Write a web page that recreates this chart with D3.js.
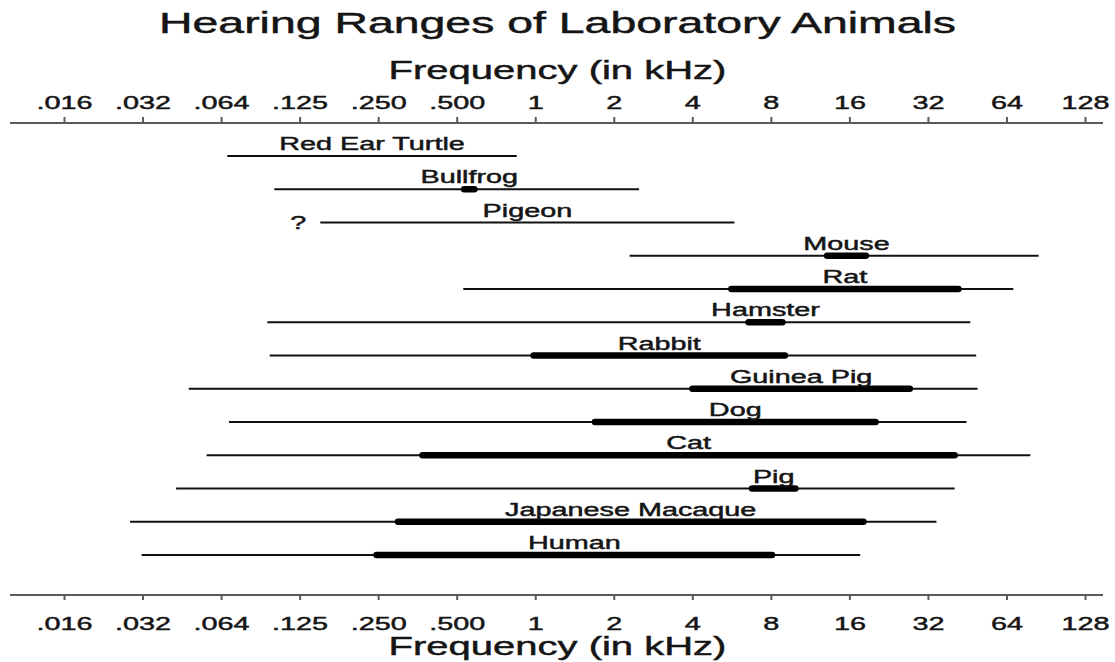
<!DOCTYPE html>
<html>
<head>
<meta charset="utf-8">
<script src="https://cdn.jsdelivr.net/npm/d3@7"></script>
<style>
  body { margin: 0; background: #fff; }
  text { font-family: "Liberation Sans", Arial, sans-serif; fill: #151515; stroke: #151515; stroke-width: 0.45px; }
</style>
</head>
<body>
<svg width="1115" height="662"></svg>
<script>
// tick values are powers of two (kHz), labelled the way the figure does
var tickValues = d3.range(-6, 8).map(function (p) { return Math.pow(2, p) })
var tickLabels = ['.016', '.032', '.064', '.125', '.250', '.500', '1', '2', '4', '8', '16', '32', '64', '128']

var animals = ['Red Ear Turtle', 'Bullfrog', 'Pigeon', 'Mouse', 'Rat', 'Hamster', 'Rabbit',
  'Guinea Pig', 'Dog', 'Cat', 'Pig', 'Japanese Macaque', 'Human']
// full hearing range, kHz
var lowFreq  = [0.066, 0.1, 0.15, 2.3, 0.53, 0.094, 0.096, 0.047, 0.067, 0.055, 0.042, 0.028, 0.031]
var highFreq = [0.85, 2.5, 5.8, 85, 68, 46.5, 49, 49.6, 45, 79, 40.5, 34.5, 17.6]
// most sensitive region (thick bar), kHz; null where none is drawn
var bestLow  = [null, 0.52, null, 12.8, 5.5, 6.4, 0.96, 3.9, 1.65, 0.36, 6.6, 0.29, 0.24]
var bestHigh = [null, 0.6, null, 19, 43, 9.1, 9.3, 28, 20.7, 41.6, 10.2, 18.6, 8.3]
var uncertainLow = ['Pigeon']

var config = {
  width: 1115,
  height: 662,
  stretch: 1.6,        // the figure's lettering is drawn wide
  topAxis: 123,
  bottomAxis: 595,
  rows: [156, 555]
}

var svg = d3.select('svg')

var x = d3.scaleLog().base(2)
    .domain([tickValues[0], tickValues[tickValues.length - 1]])
    .range([64, 1085])

var y = d3.scalePoint()
    .domain(animals)
    .range(config.rows)

function wideText (parent, px, py, str, size, anchor) {
  return parent.append('text')
      .attr('transform', `translate(${px}, ${py}) scale(${config.stretch}, 1)`)
      .attr('text-anchor', anchor || 'middle')
      .attr('font-size', size)
      .text(str)
}

// titles
wideText(svg, config.width / 2, 33, 'Hearing Ranges of Laboratory Animals', 29)
wideText(svg, config.width / 2, 79, 'Frequency (in kHz)', 25)
wideText(svg, config.width / 2, 655, 'Frequency (in kHz)', 25)

function drawAxis (axis, ypos) {
  svg.append('line')
      .attr('x1', 10)
      .attr('x2', 1103)
      .attr('y1', ypos)
      .attr('y2', ypos)
      .attr('stroke', '#5a5a5a')
      .attr('stroke-width', 2)

  var g = svg.append('g')
      .attr('transform', `translate(0, ${ypos})`)
      .call(axis.tickValues(tickValues)
        .tickFormat(function (d, i) { return tickLabels[i] })
        .tickSizeOuter(0))
      .attr('font-size', null)
      .attr('font-family', null)

  g.select('.domain').remove()
  g.selectAll('.tick line')
      .attr('stroke', '#5a5a5a')
      .attr('stroke-width', 2)
  g.selectAll('.tick text')
      .attr('font-size', 18)
      .attr('transform', `scale(${config.stretch}, 1)`)
}

drawAxis(d3.axisTop(x).tickSize(6).tickPadding(8), config.topAxis)
drawAxis(d3.axisBottom(x).tickSize(5).tickPadding(17), config.bottomAxis)

// one row per animal
var rows = svg.selectAll('g.row')
  .data(animals)
  .enter()
  .append('g')
    .attr('class', 'row')
    .attr('transform', _ => `translate(0, ${y(_)})`)

rows.append('line')
    .attr('x1', (_, i) => x(lowFreq[i]))
    .attr('x2', (_, i) => x(highFreq[i]))
    .attr('stroke', '#111')
    .attr('stroke-width', 2.2)

rows.filter((_, i) => bestLow[i] != null)
  .append('line')
    .attr('x1', _ => x(bestLow[animals.indexOf(_)]) + 3)
    .attr('x2', _ => x(bestHigh[animals.indexOf(_)]) - 3)
    .attr('stroke', '#000')
    .attr('stroke-width', 6.5)
    .attr('stroke-linecap', 'round')

rows.each(function (name, i) {
  var lo = bestLow[i] != null ? bestLow[i] : lowFreq[i]
  var hi = bestHigh[i] != null ? bestHigh[i] : highFreq[i]
  var mid = Math.sqrt(lo * hi)
  wideText(d3.select(this), x(mid), -6, name, 18)
  if (uncertainLow.indexOf(name) >= 0) {
    wideText(d3.select(this), x(lowFreq[i]) - 14, 6, '?', 18, 'end')
  }
})
</script>
</body>
</html>
